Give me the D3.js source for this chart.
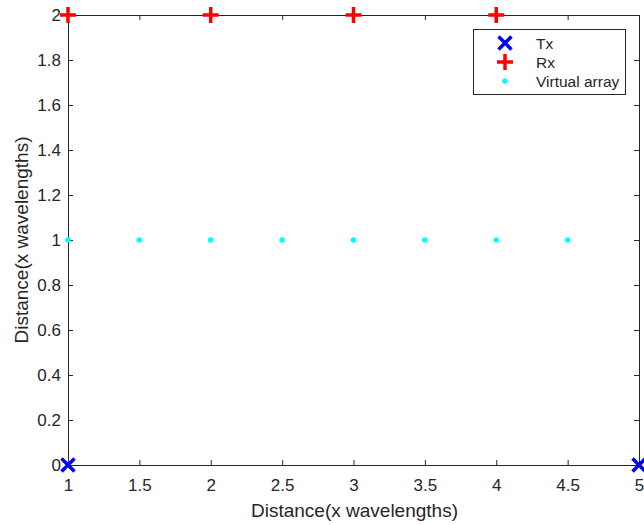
<!DOCTYPE html>
<html>
<head>
<meta charset="utf-8">
<script src="https://cdn.jsdelivr.net/npm/d3@7"></script>
<style>
  body { margin: 0; background: #fff; }
  text { font-family: "Liberation Sans", Arial, sans-serif; fill: #262626; }
</style>
</head>
<body>
<svg id="chart" width="644" height="525"></svg>
<script>
// data
const txX = [1, 5], txY = [0, 0];
const rxX = [1, 2, 3, 4], rxY = [2, 2, 2, 2];
const vaX = [1, 1.5, 2, 2.5, 3, 3.5, 4, 4.5], vaY = [1, 1, 1, 1, 1, 1, 1, 1];
const xTicks = [1, 1.5, 2, 2.5, 3, 3.5, 4, 4.5, 5];
const yTicks = [0, 0.2, 0.4, 0.6, 0.8, 1, 1.2, 1.4, 1.6, 1.8, 2];
const legendLabels = ['Tx', 'Rx', 'Virtual array'];

const pLeft = 68, pRight = 639, pTop = 15, pBottom = 465;
const svg = d3.select('#chart');

const x = d3.scaleLinear().domain([1, 5]).range([pLeft, pRight]);
const y = d3.scaleLinear().domain([0, 2]).range([pBottom, pTop]);
const fmt = d => String(d);

// axes (ticks pointing inward, mirrored on top/right)
const axisColor = '#262626';
function styleAxis(g) {
  g.selectAll('path').attr('stroke', axisColor);
  g.selectAll('line').attr('stroke', axisColor);
  g.selectAll('text').style('font-size', '17px').attr('fill', axisColor);
}
svg.append('g').attr('transform', `translate(0,${pBottom})`)
  .call(d3.axisBottom(x).tickValues(xTicks).tickFormat(fmt).tickSizeInner(-5).tickSizeOuter(0).tickPadding(14))
  .call(styleAxis);
svg.append('g').attr('transform', `translate(0,${pTop})`)
  .call(d3.axisTop(x).tickValues(xTicks).tickFormat('').tickSizeInner(-5).tickSizeOuter(0))
  .call(styleAxis);
svg.append('g').attr('transform', `translate(${pLeft},0)`)
  .call(d3.axisLeft(y).tickValues(yTicks).tickFormat(fmt).tickSizeInner(-5).tickSizeOuter(0).tickPadding(7))
  .call(styleAxis);
svg.append('g').attr('transform', `translate(${pRight},0)`)
  .call(d3.axisRight(y).tickValues(yTicks).tickFormat('').tickSizeInner(-5).tickSizeOuter(0))
  .call(styleAxis);

// axis labels
svg.append('text').attr('x', (pLeft + pRight) / 2 + 1).attr('y', 517)
  .attr('text-anchor', 'middle').style('font-size', '19px').text('Distance(x wavelengths)');
svg.append('text').attr('transform', `translate(28,${(pTop + pBottom) / 2}) rotate(-90)`)
  .attr('text-anchor', 'middle').style('font-size', '19px').text('Distance(x wavelengths)');

// marker helpers
function drawX(g, cx, cy) {
  const s = 6.5;
  g.append('path').attr('d', `M${cx - s},${cy - s}L${cx + s},${cy + s}M${cx - s},${cy + s}L${cx + s},${cy - s}`)
    .attr('stroke', '#0000ff').attr('stroke-width', 3.5).attr('fill', 'none');
}
function drawPlus(g, cx, cy) {
  const s = 8;
  g.append('path').attr('d', `M${cx - s},${cy}L${cx + s},${cy}M${cx},${cy - s}L${cx},${cy + s}`)
    .attr('stroke', '#ff0000').attr('stroke-width', 3.5).attr('fill', 'none');
}

const marks = svg.append('g');
vaX.forEach((d, i) => {
  marks.append('circle').attr('cx', x(d)).attr('cy', y(vaY[i])).attr('r', 2.8).attr('fill', '#00ffff');
});
rxX.forEach((d, i) => drawPlus(marks, x(d), y(rxY[i])));
txX.forEach((d, i) => drawX(marks, x(d), y(txY[i])));

// legend
const lg = svg.append('g');
lg.append('rect').attr('x', 473.5).attr('y', 29.5).attr('width', 152).attr('height', 65)
  .attr('fill', '#fff').attr('stroke', axisColor).attr('stroke-width', 1);
const ly = [43, 62, 81];
drawX(lg, 505, ly[0]);
drawPlus(lg, 505, ly[1]);
lg.append('circle').attr('cx', 505).attr('cy', ly[2]).attr('r', 2.8).attr('fill', '#00ffff');
legendLabels.forEach((t, i) => {
  lg.append('text').attr('x', 536).attr('y', ly[i] + 5.5).style('font-size', '15.5px').text(t);
});
</script>
</body>
</html>
